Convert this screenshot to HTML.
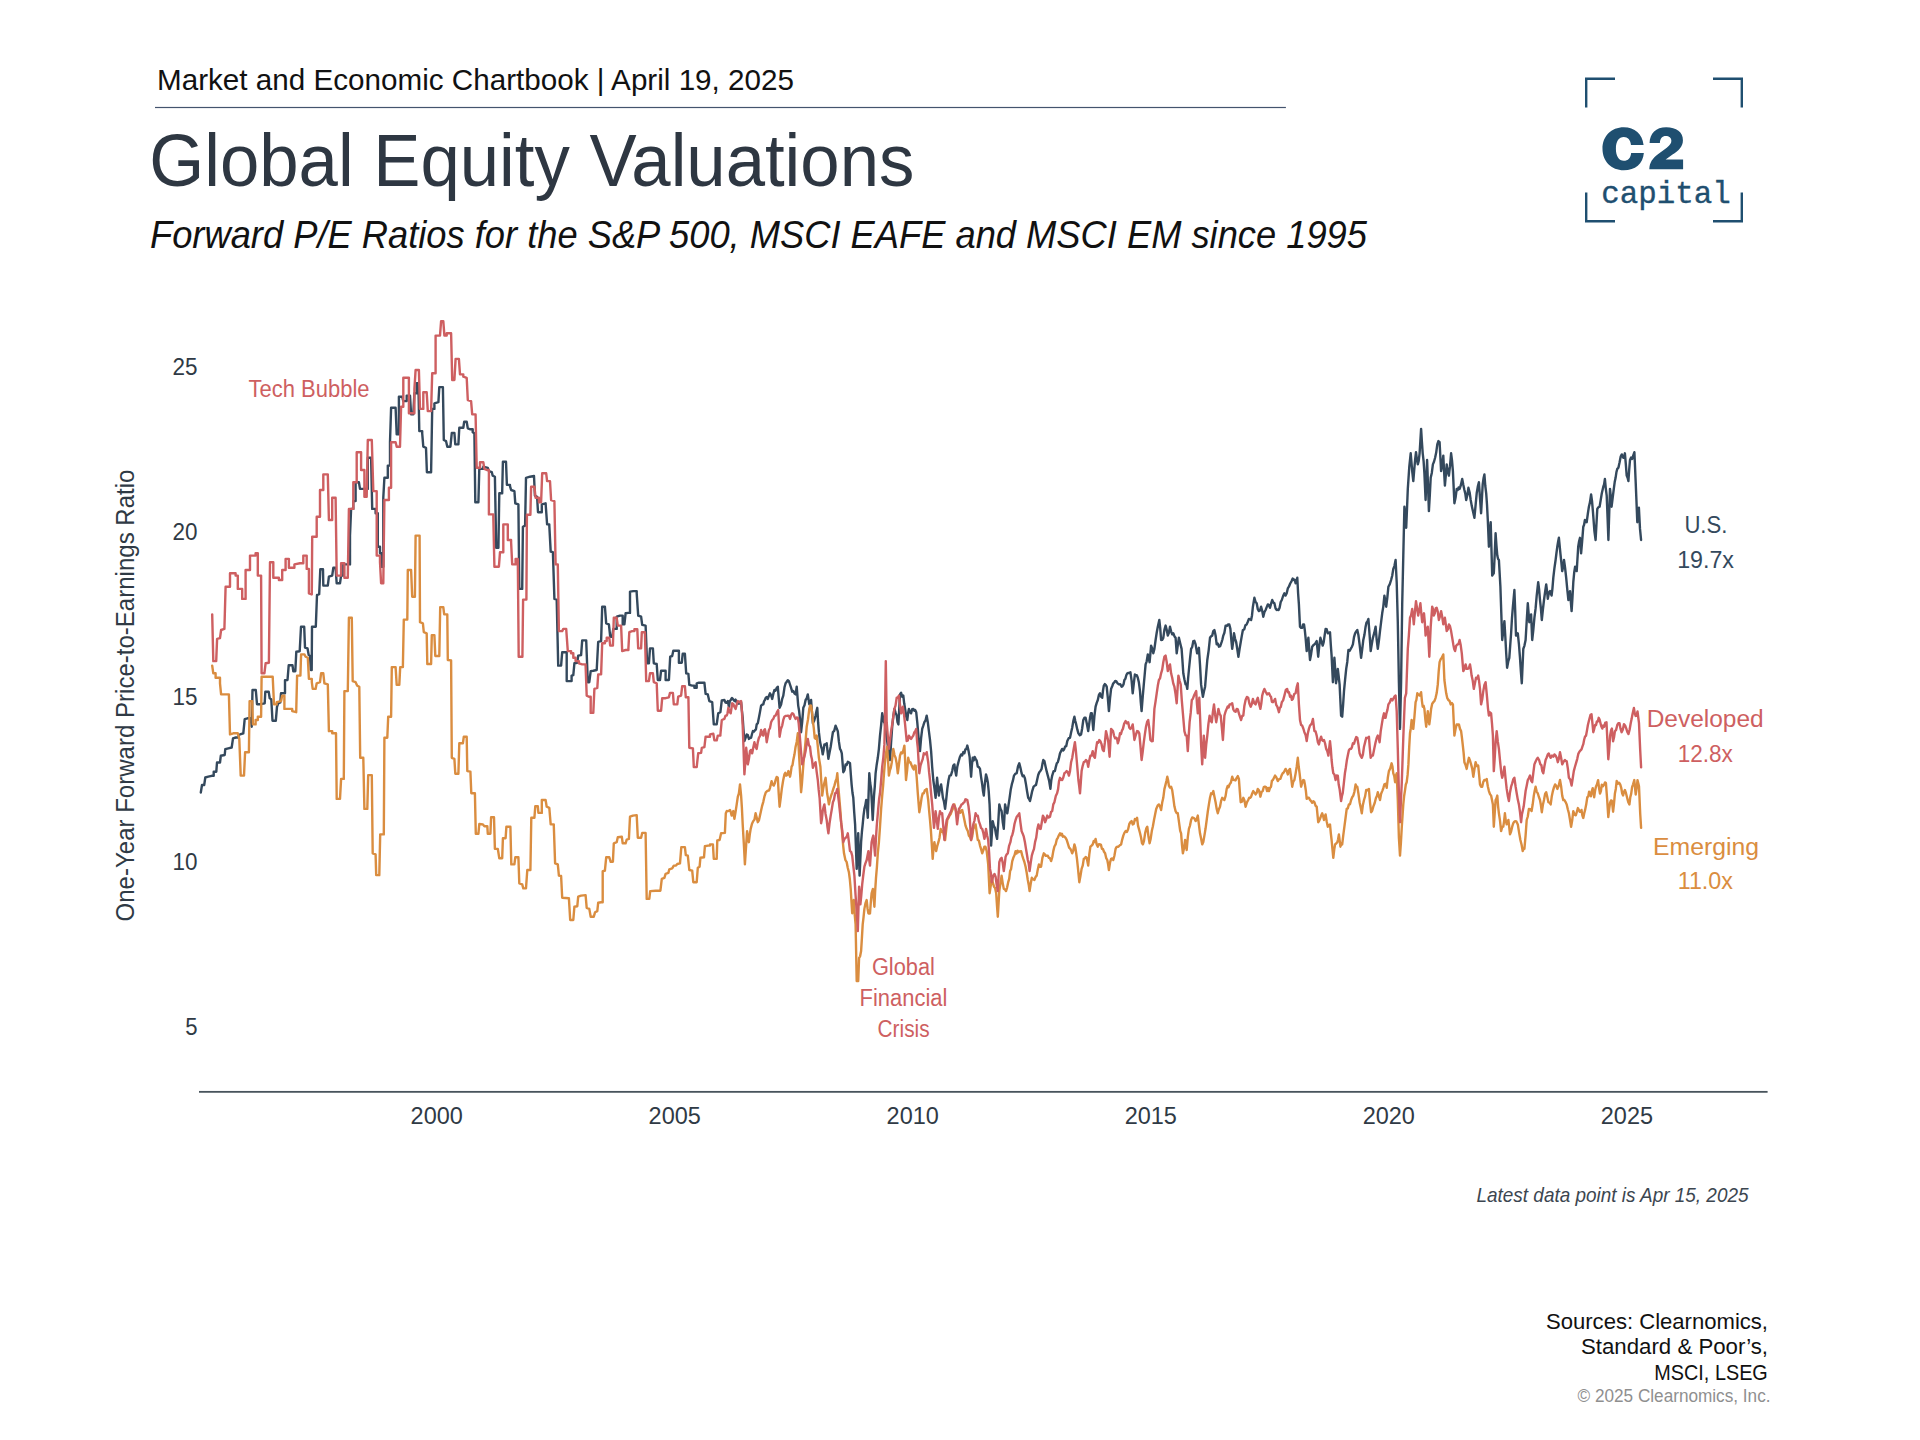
<!DOCTYPE html>
<html><head><meta charset="utf-8"><title>Global Equity Valuations</title>
<style>
html,body{margin:0;padding:0;background:#fff;}
body{width:1920px;height:1440px;overflow:hidden;font-family:"Liberation Sans",sans-serif;}
svg{display:block;}
svg text{font-family:"Liberation Sans",sans-serif;}
</style></head><body>
<svg width="1920" height="1440" viewBox="0 0 1920 1440">
<rect width="1920" height="1440" fill="#ffffff"/>
<text x="157" y="89.6" font-size="29.6" fill="#111" text-anchor="start" textLength="637" lengthAdjust="spacingAndGlyphs"  style="">Market and Economic Chartbook | April 19, 2025</text>
<rect x="155" y="106.9" width="1130.9" height="1.2" fill="#44546e"/>
<text x="149.3" y="186.3" font-size="73.3" fill="#2e3742" text-anchor="start" textLength="765" lengthAdjust="spacingAndGlyphs"  style="">Global Equity Valuations</text>
<text x="150" y="247.5" font-size="39.3" fill="#111" text-anchor="start" textLength="1217" lengthAdjust="spacingAndGlyphs"  style="font-style:italic">Forward P/E Ratios for the S&amp;P 500, MSCI EAFE and MSCI EM since 1995</text>
<g fill="none" stroke="#1f4f70" stroke-width="2.4"><path d="M1586.2 107.5V78.7H1615"/><path d="M1713 78.7H1741.8V107.5"/><path d="M1586.2 192.5V221.3H1615"/><path d="M1713 221.3H1741.8V192.5"/></g>
<g transform="translate(1590 115) scale(0.057292)" fill="#1f4f70"><path d="M935 522C915 330 780 215 590 215C370 215 218 370 218 590C218 810 370 965 590 965C790 965 925 850 940 663L718 663C710 750 665 800 590 800C505 800 452 720 452 590C452 460 505 385 590 385C662 385 705 435 715 522Z"/><path d="M1040 488C1045 320 1150 215 1330 215C1510 215 1622 300 1622 440C1622 560 1540 625 1440 690L1320 775L1625 775L1625 945L1035 945C1040 830 1090 760 1180 690L1340 570C1400 525 1420 490 1420 450C1420 400 1380 368 1322 368C1262 368 1222 410 1220 488Z"/></g>
<text x="1601.3" y="203" font-size="30.5" fill="#1f4f70" text-anchor="start" textLength="129.5" lengthAdjust="spacingAndGlyphs" stroke="#1f4f70" stroke-width="0.35" style="font-family:'Liberation Mono',monospace">capital</text>
<text x="197.6" y="375.3" font-size="24.3" fill="#2f3a45" text-anchor="end" textLength="25" lengthAdjust="spacingAndGlyphs"  style="">25</text>
<text x="197.6" y="540.2" font-size="24.3" fill="#2f3a45" text-anchor="end" textLength="25" lengthAdjust="spacingAndGlyphs"  style="">20</text>
<text x="197.6" y="705.1" font-size="24.3" fill="#2f3a45" text-anchor="end" textLength="25" lengthAdjust="spacingAndGlyphs"  style="">15</text>
<text x="197.6" y="870.0" font-size="24.3" fill="#2f3a45" text-anchor="end" textLength="25" lengthAdjust="spacingAndGlyphs"  style="">10</text>
<text x="197.6" y="1034.9" font-size="24.3" fill="#2f3a45" text-anchor="end" textLength="12.3" lengthAdjust="spacingAndGlyphs"  style="">5</text>
<text x="436.7" y="1124.4" font-size="24.3" fill="#2f3a45" text-anchor="middle" textLength="52.2" lengthAdjust="spacingAndGlyphs"  style="">2000</text>
<text x="674.7" y="1124.4" font-size="24.3" fill="#2f3a45" text-anchor="middle" textLength="52.2" lengthAdjust="spacingAndGlyphs"  style="">2005</text>
<text x="912.7" y="1124.4" font-size="24.3" fill="#2f3a45" text-anchor="middle" textLength="52.2" lengthAdjust="spacingAndGlyphs"  style="">2010</text>
<text x="1150.8" y="1124.4" font-size="24.3" fill="#2f3a45" text-anchor="middle" textLength="52.2" lengthAdjust="spacingAndGlyphs"  style="">2015</text>
<text x="1388.8" y="1124.4" font-size="24.3" fill="#2f3a45" text-anchor="middle" textLength="52.2" lengthAdjust="spacingAndGlyphs"  style="">2020</text>
<text x="1626.9" y="1124.4" font-size="24.3" fill="#2f3a45" text-anchor="middle" textLength="52.2" lengthAdjust="spacingAndGlyphs"  style="">2025</text>
<rect x="199" y="1090.95" width="1568.6" height="1.8" fill="#48545c"/>
<text transform="translate(133.7 921.5) rotate(-90)" font-size="25.7" fill="#2f3a45" textLength="452" lengthAdjust="spacingAndGlyphs">One-Year Forward Price-to-Earnings Ratio</text>
<path d="M200.8 792.5L202 785L204.2 785L205.3 777.5L208.3 776.7L211.7 775.8L213.7 775.8L213.7 771.7L216.3 771.7L217 762.5L220 762.5L220.8 755.8L224.7 755L225.3 749.2L228.3 748.3L231.7 747.5L233 738.3L235.8 737.5L238.7 737.5L238.7 735L240.8 734.2L243.3 733.3L244.7 719.2L247.5 718.3L250.8 718.3L251.7 726.7L252.5 690L255.8 690L257 704.2L260.8 704.2L264.7 703.3L265.3 691.7L268.7 691.7L269.7 698.3L271.3 699.2L272.5 720.8L275.8 720.8L277 706.7L278.3 703.3L280.3 702.5L281 693.3L283.3 693.3L285 693.3L285 680.3L287.5 680L288.7 665.3L292.5 665.3L293.3 671.3L295.3 671.3L296.3 651.7L299.7 651.3L301 626.7L304.2 626.7L305 647.5L307.5 648.3L308.7 655L310 655.8L310.8 670L311.7 670L312 626.7L315.8 626.7L317 595L319.2 594.2L320.3 569.2L323 569.2L323.3 585.6L327.8 585.6L328.9 576.7L332.2 575.6L333.3 567.8L335.6 567.8L336.7 583.3L340 583.3L341.1 575.6L343.3 575.6L343.3 564.4L345.6 564.4L350 564.4L350 535.6L351.1 508.9L353.3 508.9L353.3 501.1L355.6 501.1L355.6 482.2L358.9 482.2L360 488.9L365.6 488.9L367.8 488.9L367.8 457.8L371.1 457.8L372.2 508.9L375.6 508.9L375.6 513.3L377.8 513.3L377.8 546.7L380 546.7L380 553.3L381.6 553.3L381.6 566.7L383.3 566.7L383.3 497.8L384.4 477.8L387.8 477.8L387.8 465.6L390 465.6L390 442.2L391.1 407.8L395.6 407.8L396.7 434.4L398.9 434.4L398.9 396.7L402.2 396.7L403.3 401.1L406.7 401.1L406.7 395.6L410 395.6L411.1 414.4L413.3 414.4L414.4 393.3L416.7 393.3L416.7 383.3L418.4 383.3L419.3 431.1L422.2 431.1L422.2 433.3L423.3 446.7L426 447.8L426.9 472.2L431.1 472.2L432.2 408.9L434.4 408.9L434.4 403.3L438.4 402.2L439.3 387.1L442.9 387.1L443.8 440L446 441.1L447.3 446.7L450.4 446.7L451.8 432.9L454.4 432.9L455.3 444.4L458.4 444.4L459.3 427.8L463.3 427.8L464.2 421.8L466.7 421.8L467.8 428.4L470.4 429.3L472.7 429.3L472.7 432.2L474.4 433.3L475.3 502.2L478.4 502.2L479.3 468.9L483.3 468.9L483.3 466.7L487.8 467.8L488.9 471.1L491.8 472.2L492.7 475.6L494.9 476.7L496.2 547.8L498.4 547.8L499.3 493.3L502.2 493.3L502.2 491.1L502.9 461.8L506 461.8L506.9 484.9L510 484.9L510 486.2L511.1 490L514.4 491.1L515.3 503.3L518.4 504.4L519.3 588.9L522.2 588.9L522.9 526.7L525.1 525.6L526 477.8L530 476.7L534 476L534.9 495.6L537.1 496.7L538 512.2L541.8 512.2L541.8 504.4L545.6 503.3L547.1 524.4L549.3 524.4L549.3 525.6L550.7 551.6L552.9 552.2L554.4 598.9L556.7 599.6L558.2 665.6L561.1 665.6L562.2 652.2L564.9 652.2L566.7 652.2L566.7 681.1L570 681.1L571.6 681.1L571.6 675.6L573.3 675.1L574.4 663.3L577.3 662.7L578.2 655.6L581.1 655.1L582.2 640.4L586.2 640.4L587.8 682.2L589.3 682.2L590.7 671.1L593.3 670.7L596.7 670L598.2 641.8L601.1 641.1L602.2 606.7L604.9 606.7L606.2 623.3L608.9 624.4L610.2 636.7L612.2 636.7L613.3 628.9L616.7 628.9L616.7 616.7L620 615.6L622.7 615.6L622.7 624.4L624.4 624.4L625.6 613.3L628.4 612.9L630 612.9L630 591.6L633.3 591.1L636.7 591.1L636.7 593.3L638.2 615.6L641.1 616.7L642.2 624.9L645.6 625.6L647.1 663.3L648.9 663.3L650 648.4L652.9 648.4L653.8 663.3L656.7 664L657.8 680L660 680L661.1 670.7L664 670.7L665.6 670.7L665.6 680L668.9 680L670.2 656.7L672.2 656L673.3 650.7L677.3 650.7L678.9 650.7L678.9 662.7L681.8 662.7L682.7 653.8L684.9 653.8L686.2 673.3L688.4 673.8L689.3 684.9L692.2 685.6L694.4 685.6L694.4 687.8L696.7 687.8L696.7 683.3L698.9 682.7L704.4 682.7L705.6 693.8L707.8 694.4L709.3 701.1L712.2 702.2L713.8 724.4L716.7 724.4L718.2 713.3L720.4 712.2L721.8 700.4L724.4 700L725.5 702.5L726.7 702.8L727.8 701.1L728.9 706.7L729.8 701.3L730.7 700L732 697.9L733.3 699.6L734.5 701.1L735.6 699.6L736.7 702.5L737.8 703.3L738.9 703.7L740 701.7L741.1 702.2L741.9 710.5L742.7 717.8L743.5 729.9L744.4 741.1L745.5 738.1L746.7 734.4L747.8 735.1L748.9 738.9L750 738L751.1 737.8L752 734L752.9 731.1L754 731.6L755.1 730L755.9 729.5L756.7 724.4L757.8 723.2L758.9 717.8L760 711.9L761.1 705.6L762.2 704.7L763.3 704.4L764.1 701.1L764.9 700L765.9 697.5L766.8 697.1L767.8 698.9L768.9 695.9L770 693.3L771.1 695.3L772.2 698.9L773.3 693.9L774.4 690L775.5 690.7L776.7 687.9L777.8 686.7L778.7 697.5L779.6 707.8L781.1 704.4L782.2 698.8L783.3 695.6L784.5 687.3L785.6 683.3L786.7 681.8L787.8 680.2L788.9 681.1L790 684.5L791.1 687.8L792.2 691.7L793.3 691.1L794.5 693.6L795.6 694.4L796.7 686.7L798.2 705.6L799.1 710.8L800 718.9L801.1 732.2L802.2 721.8L803.3 707.8L804.5 705.3L805.6 700L806.7 698.3L807.8 694.4L809.3 704.4L810.2 704.1L811.1 700L812 712.9L812.9 723.3L814.2 720.8L815.6 715.6L816.5 711L817.3 707.8L818.1 722.2L818.9 732.2L820 741.6L821.1 746.7L821.9 749L822.7 754.4L823.5 750.6L824.4 744.4L825.5 744.8L826.7 743.3L827.5 750.9L828.4 758.9L829.5 752.9L830.7 746.7L831.8 739.4L832.9 732.2L834.2 730.9L835.6 725.6L836.7 728.4L837.8 731.1L838.9 741.5L840 748.9L840.9 750.4L841.8 753.3L843.3 772.2L844.5 770.1L845.6 764.4L846.7 764.9L847.8 761.8L848.9 762.4L850 763.3L850.8 774.2L851.6 784.4L852.5 793L853.3 797.8L854.2 812.1L855.1 824.4L855.9 846.6L856.7 868.9L858.2 833.3L859.6 875.6L861.1 842.2L861.9 832L862.7 824.4L863.5 815.8L864.4 808.9L865.3 805.4L866.2 800L867 807.4L867.8 817.8L869.3 773.3L870.2 783L871.1 788.9L871.9 803.4L872.7 820L874 795.6L874.8 786.3L875.6 773.3L876.7 764.7L877.8 757.8L878.9 748.8L880 735.6L881.1 725.4L882.2 713.3L883.1 717.8L884 722.2L884.4 720L885.5 729L886.7 737.8L887.8 745.9L888.9 753L890 760L891.1 742.5L892.2 726.7L893.3 716.5L894.4 708.9L895.5 712.3L896.7 715.6L897.5 722L898.4 724.4L899.2 710L900 694.4L901.1 692.8L902.2 696.7L903.3 695.6L904.2 703.3L905.1 708.9L906.2 716.3L907.3 720L908.1 713L908.9 708.9L910 712.2L911.1 713.3L912.2 709.1L913.3 708.9L914.3 710.7L915.2 710.1L916.2 712.2L917.3 722.6L918.4 735.6L919.2 745.1L920 751.1L921.1 738.2L922.2 728.9L923.3 725.7L924.4 722.2L925.5 720.5L926.7 715.6L927.8 722.2L928.9 731.1L930 739.8L931.1 751.1L932.2 767.3L933.3 780L934.5 788.5L935.6 797.8L937.1 777.8L938 787.7L938.9 795.6L940 787.8L941.1 784.4L942 790.5L942.9 797.8L944 801.8L945.1 808.9L946.2 799.7L947.3 788.9L948.5 780.3L949.6 775.6L950.9 775.4L952.2 771.1L953.3 765.6L954.4 764.4L955.3 771.1L956.2 775.6L957.3 766.7L958.4 762.2L959.8 757.2L961.1 754.4L962.2 755.5L963.3 752.1L964.4 753.3L965.4 749.3L966.3 749L967.3 745.6L968.5 750.6L969.6 756.7L971.1 776.7L971.9 765.1L972.7 757.8L973.7 760.4L974.6 756.9L975.6 758.9L976.7 760.7L977.8 766.7L978.9 767.1L980 768.9L981.1 777.2L982.2 784.4L983 791.1L983.8 795.6L984.9 783.2L986 774.4L986.9 777.6L987.8 782.2L988.7 791.1L989.6 804.4L991.1 845.6L991.9 833.1L992.7 821.1L993.8 825.7L994.9 827.8L996 834.5L997.1 838.9L998.2 823.5L999.3 804.4L1000.5 808.9L1001.6 811.1L1002.7 821.7L1003.8 828.9L1005.1 804.4L1006.2 809.8L1007.3 813.3L1008.5 805.4L1009.6 797.8L1010.7 789.8L1011.8 784.4L1012.9 780.7L1014 775.6L1015.4 773.6L1016.7 773.3L1018 766.5L1019.3 763.3L1020.5 768.1L1021.6 773.3L1022.7 776.2L1023.8 775.6L1024.9 778.3L1026 784.4L1027.1 791.5L1028.2 797.8L1029.1 799L1030 801.1L1031.1 796.2L1032.2 791.1L1033.6 786.7L1034.9 785.6L1036 784.9L1037.1 780L1038.2 775L1039.3 772.2L1040.4 771L1041.6 768.9L1042.4 764.1L1043.3 760L1044.4 761.1L1045.6 766.7L1046.7 771.4L1047.8 775.6L1049.1 780.6L1050.4 788.9L1051.3 780.2L1052.2 775.6L1053.6 771.2L1054.9 771.1L1055.9 766.6L1056.8 763.3L1057.8 762.2L1058.9 758.4L1060 753.3L1061.1 751.1L1062.2 748.9L1063.2 750.4L1064.1 749.4L1065.1 746.7L1066.2 746.2L1067.3 741.1L1068.7 738.2L1070 737.8L1071.1 732.5L1072.2 727.8L1073.3 721.1L1074.4 716.7L1075.3 721L1076.2 724.4L1077.3 729.4L1078.4 733.3L1079.8 735.2L1081.1 734.4L1082.2 728.2L1083.3 720L1084.4 717.8L1085.6 717.8L1086.9 724.1L1088.2 731.1L1089.1 724.6L1090 717.8L1090.9 713.3L1091.8 713.3L1093.3 730L1094.4 716.2L1095.6 706.7L1096.7 702.9L1097.8 700L1098.9 694.9L1100 693.3L1101.1 696.6L1102.2 697.8L1103 690.5L1103.8 685.6L1104.8 684.1L1105.7 684.9L1106.7 686.7L1107.8 697.7L1108.9 711.1L1110 698.7L1111.1 688.9L1112.2 686.2L1113.3 683.3L1114.3 682.4L1115.2 681L1116.2 681.1L1117.6 683.4L1118.9 684.4L1120.2 684.2L1121.6 686.7L1122.5 686.3L1123.5 684.4L1124.4 680L1125.4 678.8L1126.3 675.2L1127.3 673.3L1128.3 673L1129.4 672.9L1130.4 672.2L1131.6 680.7L1132.7 693.3L1133.8 683.5L1134.9 674.4L1135.9 675.6L1136.8 675.2L1137.8 677.8L1138.9 682.6L1140 691.1L1140.8 702.5L1141.6 711.1L1142.7 697.1L1143.8 684.4L1144.7 674.5L1145.6 664.4L1146.7 661.3L1147.8 654.4L1148.7 658.8L1149.6 662.2L1151.1 645.6L1152.2 648.5L1153.3 653.3L1154.4 648.9L1155.6 640L1156.7 632.8L1157.8 626.7L1159.3 620L1160.2 627.8L1161.1 640L1162.2 639.8L1163.3 637.8L1164.4 629.9L1165.6 625.6L1166.7 629.7L1167.8 635.6L1168.9 632.7L1170 626.7L1171.1 631.3L1172.2 634.4L1173.3 633.3L1174.5 636.4L1175.6 637.8L1176.7 653.3L1177.8 645.1L1178.9 637.8L1180.2 643.3L1181.6 648.9L1182.4 659.8L1183.3 673.3L1184.4 679.3L1185.6 684.4L1186.4 684.7L1187.3 688.9L1188.1 678.5L1188.9 670L1190 658.9L1191.1 648.9L1192.2 647L1193.3 641.1L1194.4 640.8L1195.6 644.4L1197.1 653.3L1198 651.7L1198.9 647.8L1200 664.7L1201.1 684.4L1202 690.9L1202.9 696.7L1204 691.2L1205.1 686.7L1206.2 673.2L1207.3 660L1208.7 650.1L1210 637.8L1211.1 636.2L1212.2 635.6L1213.3 631.1L1214.4 630L1215.6 635.5L1216.7 644.4L1217.8 643.6L1218.9 646.7L1220.2 646.1L1221.6 642.2L1222.4 639.5L1223.3 635.6L1224.4 632.7L1225.6 625.6L1226.9 625.9L1228.2 624.4L1229.3 624.5L1230.4 628.9L1231.3 639.6L1232.2 648.9L1233.1 642.4L1234 633.3L1235.1 638.8L1236.2 642.2L1237.3 649.4L1238.4 656.7L1239.6 648.8L1240.7 642.2L1241.8 635.9L1242.9 630L1244.2 629.5L1245.4 625.2L1246.7 624.4L1247.8 621.8L1248.9 618.9L1250 619.3L1251.1 620L1252 615.4L1252.9 606.7L1254.4 597.8L1255.6 602L1256.7 603.3L1257.8 609.2L1258.9 611.1L1260 610.4L1261.1 606.7L1262.2 610.8L1263.3 616.7L1264.4 612.1L1265.6 610L1266.7 607.1L1267.8 604.4L1268.9 605L1270 607.8L1271.1 603.6L1272.2 600L1273.3 602.5L1274.4 603.3L1275.6 608.6L1276.7 610L1277.7 609.7L1278.6 610L1279.6 607.8L1280.7 602L1281.8 600L1283.1 596L1284.4 593.3L1285.6 595.6L1286.7 593.3L1287.8 588.4L1288.9 586.7L1290.2 583.5L1291.6 581.1L1292.7 578.6L1293.8 580L1294.7 579.7L1295.6 583.3L1296.4 582.4L1297.3 577.8L1298.1 593.3L1298.9 604.4L1300 626.7L1301.1 627.9L1302.2 627.8L1303.1 624.4L1304 624.4L1304.8 630.2L1305.6 637.8L1306.7 651.1L1307.6 643.2L1308.4 637.8L1309.2 649.7L1310 660L1311.1 654.2L1312.2 646.7L1313.3 645.3L1314.4 644.4L1315.6 642.9L1316.7 641.1L1318.2 656.7L1319.3 645.5L1320.4 637.8L1321.6 641.9L1322.7 645.6L1323.7 642.1L1324.6 635.6L1325.6 628.9L1326.7 629.2L1327.8 633.3L1328.9 632.8L1330 632.2L1330.8 644.9L1331.6 655.6L1332.9 682.2L1334.4 657.8L1335.2 669.4L1336 683.3L1336.9 677.9L1337.8 668.9L1338.7 676.5L1339.6 684.4L1341.1 715.6L1342.2 716.7L1343.1 704.8L1344 691.1L1345.1 679.6L1346.2 668.9L1347.3 661.7L1348.4 650L1349.6 650.8L1350.7 648.9L1351.8 647L1352.9 644.4L1354 637.2L1355.1 633.3L1356.2 631.4L1357.3 630L1358.4 635L1359.6 644.4L1361.1 657.8L1362.2 649.3L1363.3 640L1364.4 635.1L1365.6 626.7L1366.5 622.6L1367.5 621.5L1368.4 618.9L1369.6 634.9L1370.7 651.1L1371.8 644L1372.9 637.8L1374.2 633.2L1375.6 626.7L1376.7 639.8L1377.8 648.9L1378.9 640.9L1380 631.1L1381.1 622.1L1382.2 613.3L1383.3 606.6L1384.4 595.6L1385.3 600.4L1386.2 606.7L1387.3 597.8L1388.4 586.7L1389.8 584.1L1391.1 580L1392.2 575.7L1393.3 568.9L1394.4 566.1L1395.6 560L1396.7 582.2L1397.8 622.2L1398.9 682.2L1400 728.9L1401.1 682.2L1402.2 604.4L1403.3 555.6L1404.4 506.7L1405.3 516L1406.2 527.8L1407 508.9L1407.8 488.9L1409.3 466.7L1410.7 453.3L1412.2 471.1L1413.3 481.1L1414.2 470.1L1415.1 460L1416 452.2L1416.9 459.1L1417.8 464.4L1418.7 461L1419.6 453.3L1421.1 428.9L1421.9 441.7L1422.7 453.3L1423.6 461.1L1424.4 473.3L1425.6 500L1427.1 460L1428 485.4L1428.9 511.1L1429.8 495.4L1430.7 477.8L1431.8 472.9L1432.9 464.4L1434 461.8L1435.1 457.8L1436.2 452.6L1437.3 444.4L1438.4 441.1L1439.6 442.2L1441.1 471.1L1442.2 465.4L1443.3 455.6L1444.1 471.7L1444.9 485.6L1445.8 475.5L1446.7 464.4L1447.8 471.9L1448.9 475.6L1450 466.2L1451.1 453.3L1452 460.4L1452.9 471.1L1454.4 503.3L1455.6 497.6L1456.7 488.9L1457.7 490.1L1458.6 487.5L1459.6 488.9L1460.9 485L1462.2 478.9L1463.3 484.8L1464.4 490L1465.3 493.6L1466.2 500L1467.3 495.3L1468.4 487.8L1469.6 492.2L1470.7 500L1471.8 506.1L1472.9 511.1L1474.4 517.8L1475.6 505.2L1476.7 493.3L1477.8 486.6L1478.9 482.2L1480 498.1L1481.1 513.3L1481.9 498.7L1482.7 484.4L1483.6 478L1484.4 474.4L1485.3 486L1486.2 493.3L1487 504.7L1487.8 520L1488.9 546.7L1489.8 532.2L1490.7 522.2L1492.2 575.6L1493 574.4L1493.8 573.3L1494.7 554.9L1495.6 533.3L1496.4 545.2L1497.3 555.6L1498.1 559L1498.9 560L1500.4 586.7L1501.3 613.3L1502.2 640L1503.3 631.4L1504.4 621.1L1505.3 636.4L1506.2 653.3L1507.1 667.8L1508.2 661.7L1509.3 657.8L1510.2 645.6L1511.1 633.3L1512 617.8L1512.9 606.7L1514.4 590L1515.2 610.9L1516 635.6L1516.9 635.6L1517.8 633.3L1518.9 644L1520 657.8L1520.9 671.7L1521.8 683.3L1523.3 648.9L1524.4 645.8L1525.6 640L1526.7 621.2L1527.8 603.3L1529.3 622.2L1530.2 619.1L1531.1 614.4L1532.2 640L1533.3 630.2L1534.4 617.8L1535.6 608.4L1536.7 595.6L1538.2 582.2L1539.1 589.4L1540 600L1540.9 608.4L1541.8 620L1542.9 609.5L1544 600L1545.1 592L1546.2 584.4L1547 590.7L1547.8 598.9L1548.9 592.7L1550 591.1L1550.8 593.6L1551.6 595.6L1552.4 588.8L1553.3 577.8L1554.4 568.3L1555.6 560L1556.4 553.5L1557.3 546.7L1558.1 541.7L1558.9 537.8L1560.4 553.3L1561.3 561.9L1562.2 571.1L1563.1 567.3L1564 560L1565.1 568L1566.2 577.8L1567.3 589.6L1568.4 600L1569.2 595.5L1570 591.1L1570.8 601.3L1571.6 611.1L1572.4 598.6L1573.3 582.2L1574.2 572.5L1575.1 566.7L1575.9 570.4L1576.7 571.1L1578.2 546.7L1579.1 541.3L1580 537.8L1581.1 553.3L1582.2 540.7L1583.3 526.7L1584.1 524.7L1584.9 520L1585.8 521.8L1586.7 522.2L1587.8 514L1588.9 506.7L1590 502.1L1591.1 494.4L1592 500.9L1592.9 511.1L1594.4 531.1L1595.6 540L1596.4 525.1L1597.3 508.9L1598.4 507.3L1599.6 506.7L1600.7 500.1L1601.8 493.3L1603.3 486.7L1604.1 484.4L1604.9 478.9L1605.8 488.6L1606.7 495.6L1607.6 518.4L1608.4 540L1609.2 513.6L1610 488.9L1610.8 496.6L1611.6 506.7L1612.7 497.6L1613.8 488.9L1614.7 482.1L1615.6 477.8L1616.4 472.3L1617.3 468.9L1618.4 467.7L1619.6 462.2L1620.7 456.5L1621.8 454.4L1623.3 457.8L1624.1 457L1624.9 453.3L1625.8 463.9L1626.7 475.6L1627.6 477.7L1628.4 481.1L1629.2 469.7L1630 460L1631.1 457.5L1632.2 458.9L1633.3 455.4L1634.4 452.2L1635.6 480L1636.4 499.6L1637.3 522.2L1638.1 514.7L1638.9 507.8L1640 528.9L1641.1 540" fill="none" stroke="#34495d" stroke-width="2.4" stroke-linejoin="round" stroke-linecap="round"/>
<path d="M212.2 665.6L213.3 673.3L215.6 673.3L215.6 677.8L220 677.8L220 683.3L221.1 694.4L228.9 694.4L230 734.4L233.3 733.3L237.8 733.3L239.3 738.9L240.7 775.6L244 775.6L245.1 752.2L248.9 752.2L249.6 701.1L252.2 701.1L252.9 724.4L255.6 724.4L255.6 720L257.8 720L257.8 716.7L261.1 716.7L261.6 676.7L272.7 676.7L274 704.4L276.7 704.4L276.7 702.2L281.1 701.1L282.2 695.6L284.4 695.6L284.4 708.9L288.9 708.9L292.2 708.9L292.2 711.1L296.2 712.2L297.1 675.6L300.4 675.6L301.1 654.4L304.4 654.4L305.6 656.7L307.8 657.8L308.9 678.9L311.8 678.9L311.8 682.2L312.7 688.9L315.6 688.9L316.7 683.3L320 682.2L321.1 673.3L323.3 673.3L324.4 683.3L327.8 684.4L328.9 731.1L332.2 731.1L332.2 733.3L336 733.3L336.7 798.9L340 798.9L341.1 778.9L343.8 778.9L344.4 691.1L347.8 691.1L348.9 617.8L351.8 617.8L352.7 681.1L355.6 682.2L357.1 685.6L359.3 686.7L360.2 757.8L363.3 757.8L364.4 808.9L367.3 808.9L368.2 775.1L371.8 775.1L372.7 853.3L375.6 854.4L376.2 875.1L379.3 875.1L380.2 834.4L383.8 834.4L384.4 737.8L387.3 737.8L388.2 716.7L391.1 716.7L391.8 667.1L395.6 667.1L396.7 684.9L399.3 684.9L400.2 667.1L402.9 667.1L402.9 665.6L403.8 619.6L407.3 619.6L407.8 570L411.1 570L412.2 596.7L414.9 596.7L415.6 535.6L419.6 535.6L420 622.2L422.9 623.3L423.8 632.2L426.7 633.3L427.3 664L431.1 664L431.8 635.1L434.4 635.1L435.3 656L439.3 656L440.2 607.1L443.3 607.1L444.2 614.4L447.3 614.4L447.3 615.6L447.8 660L451.1 660.4L451.8 757.8L454.4 758.9L455.3 773.8L458.4 773.8L459.3 743.3L462.9 743.3L463.8 736.7L466.7 736.7L467.3 771.1L470.4 771.6L471.3 793.3L474.9 793.3L475.8 833.8L478.4 833.8L479.3 824L482.9 824.4L484.4 826.2L487.3 826.2L487.8 833.8L490.4 833.8L491.1 817.3L494 817.3L494.9 848.9L497.8 848.9L499.3 858.2L502.2 858.2L502.9 838.2L505.6 838.2L506.4 826.7L510.4 826.7L511.3 864.4L514.4 864.4L515.3 857.3L518.4 857.3L519.3 883.3L522.2 884.4L523.3 888.4L526 888.4L527.3 870L530.4 870L531.3 817.8L534.4 817.8L535.3 806.2L537.8 806.2L538.4 812.9L541.8 812.9L541.8 800L545.6 800L546.7 806.7L549.3 807.8L550.7 824.4L553.8 824.4L553.8 825.6L555.1 863.3L557.8 864.4L558.9 875.6L561.1 876L562.2 897.8L568.9 898.2L570.2 920L573.3 920L574.4 906.7L577.3 906.2L578.2 896.7L581.1 895.6L585.6 895.1L586.7 907.8L589.3 908.9L590.7 916.7L593.8 916.7L595.1 912.2L597.3 911.1L598.2 902.7L601.1 902.2L602.7 902.2L602.7 871.1L604.9 870.7L606.2 857.3L609.3 857.3L610.7 861.8L612.9 861.8L613.8 843.3L616.7 842.2L617.8 837.3L621.8 836.7L622.7 843.3L625.6 843.3L626.7 839.6L628.9 838.9L630 816.7L632.9 815.6L636.7 815.1L637.8 837.8L641.1 837.8L642.2 832.9L645.6 832.9L646.7 898.9L649.3 898.9L650.2 891.1L655.6 890.7L660.4 890.7L661.8 878.9L664.4 877.8L665.6 873.8L668.4 872.9L669.3 869.3L672.2 868.4L673.8 865.6L676 865.6L677.3 864L680 863.3L681.3 847.1L684.9 847.1L685.8 855.1L687.8 855.6L689.3 870L692.2 870.7L693.3 882.2L696.7 882.2L697.8 867.8L699.6 866.7L700.4 857.8L704 857.3L704.9 846.2L707.8 845.6L710 845.6L710 844.4L712.9 844.4L713.8 858.9L716.7 858.9L717.3 840.4L719.6 840L721.1 833.3L724.9 832.9L725.8 813.3L726.8 811L727.8 811.1L728.9 810.8L730 810L730.8 812.2L731.6 815.6L732.5 813.8L733.3 811.1L734.4 818.9L735.5 812.2L736.7 804.4L737.8 796.9L738.9 793.3L740 784.4L741.1 795.6L741.9 807.8L742.7 824.4L744 846.7L744.9 864.4L746.2 844.4L747.1 831.1L748 838.2L748.9 842.2L749.8 834.4L750.7 828.9L752 823.8L753.3 821.1L754.5 819.5L755.6 813.3L756.7 817.6L757.8 822.2L758.9 820.4L760 815.6L761.1 810.5L762.2 805.6L763.3 801.8L764.4 796.7L765.8 792.3L767.1 791.1L768.1 790.6L769 790.6L770 787.8L770.8 784.6L771.6 781.1L772.7 784.5L773.8 785.6L774.7 783.6L775.6 780L776.7 776.9L777.8 777.8L778.7 793.4L779.6 806.7L780.7 798.2L781.8 788.9L783.1 780.7L784.4 774.4L785.3 772.8L786.2 775.6L787.3 775L788.4 771.1L789.2 773.8L790 776.7L790.8 772.7L791.6 766.7L792.5 765.1L793.3 760L794.5 754.3L795.6 746.7L796.7 741.9L797.8 733.3L798.7 748.4L799.6 764.4L801.1 792.2L801.9 784.1L802.7 773.3L803.5 763L804.4 753.3L805.5 742L806.7 726.7L808 719.5L809.3 708.9L810.2 705.4L811.1 705.6L812 711.7L812.9 721.1L813.8 728.1L814.7 737.8L815.7 738.8L816.7 735.6L817.8 746.4L818.9 757.8L820.4 766.7L821.3 781.7L822.2 795.6L823.1 789.1L824 784.4L824.8 781.1L825.6 777.8L827.1 793.3L828 798.3L828.9 804.4L830 799.3L831.1 795.6L832.2 792.6L833.3 788.9L834.5 785.4L835.6 781.1L836.5 779.1L837.3 773.3L838.1 784.1L838.9 793.3L840.4 811.1L841.3 824.2L842.2 833.3L843.1 844.9L844 853.3L845.4 860L846.7 862.2L847.8 868L848.9 872.2L849.8 879L850.7 888.9L852.2 913.3L853 908.3L853.8 900L854.7 914.3L855.6 924.4L856.7 981.1L858.2 981.1L859.1 957.8L860.1 956.3L861.1 951.1L861.9 938.1L862.7 924.4L863.5 917.6L864.4 908.9L865.5 903.1L866.7 900L867.5 908.2L868.4 913.3L869.2 913.6L870 913.3L870.8 902.3L871.6 893.3L872.9 888.9L874.4 906.7L875.2 890.2L876 877.8L876.9 867.2L877.8 853.3L878.9 842.3L880 826.7L881.1 809.3L882.2 795.6L883.1 785.8L884 773.3L884.8 764L885.6 755.6L887.1 746.7L888 759.5L888.9 775.6L889.9 770.2L890.8 767.9L891.8 762.2L893.3 748.9L894.5 755.1L895.6 757.8L896.7 763.5L897.8 773.3L898.9 765L900 755.6L901.1 752.4L902.2 753.3L903.3 750.5L904.4 745.6L905.2 762L906 780L907.1 770.7L908.2 757.8L909.3 762.2L910.4 762.2L911.5 765L912.7 767.8L913.7 769.4L914.6 765.5L915.6 765.6L916.7 777.5L917.8 793.3L919.3 812.2L920.5 805.5L921.6 797.8L922.7 793.4L923.8 793.3L924.8 790.4L925.7 789.9L926.7 788.9L928.2 800L929.1 810.5L930 820L930.9 830.6L931.8 844.4L932.7 858.9L933.5 848.4L934.4 842.2L935.3 848.3L936.2 851.1L937.3 845.8L938.4 842.2L939.5 837.7L940.7 828.9L941.8 831.8L942.9 831.1L944 835L945.1 840L946.2 829.8L947.3 820L948.5 817.9L949.6 815.6L950.7 814L951.8 811.1L953.1 808.2L954.4 804.4L955.5 809.1L956.7 813.3L958 812.8L959.3 811.1L960.3 812.8L961.2 810.4L962.2 810L963.3 814.7L964.4 820L965.5 825.5L966.7 828.9L967.8 831L968.9 835.6L970 836.9L971.1 840L972.2 836.6L973.3 828.9L974.5 826.7L975.6 824.4L976.7 832.4L977.8 840L978.9 840.6L980 845.6L981.1 849.1L982.2 853.3L983.3 850.4L984.4 846.7L985.5 846.7L986.7 851.1L988.2 864.4L989.6 893.3L990.7 886.1L991.8 877.8L992.9 882.9L994 886.7L995.1 888L996.2 893.3L997 905.6L997.8 916.7L999.3 891.1L1000.5 883.2L1001.6 875.6L1002.7 883.1L1003.8 888.9L1004.9 889.3L1006 891.1L1007.1 887.6L1008.2 882.2L1009.2 878.9L1010.1 871.1L1011.1 868.9L1012.2 861.3L1013.3 857.8L1014.5 855.3L1015.6 851.1L1016.5 853.6L1017.5 850.7L1018.4 852.2L1019.8 851.4L1021.1 851.1L1022.2 855.4L1023.3 858.9L1024.4 862L1025.6 866.7L1026.7 872.7L1027.8 880L1028.7 884.7L1029.6 891.1L1030.7 883.8L1031.8 877.8L1033.1 879.3L1034.4 880L1035.6 876.9L1036.7 875.6L1037.8 869.4L1038.9 864.4L1040 866.8L1041.1 866.7L1042.4 857.8L1043.8 853.3L1044.8 854.4L1045.7 855.9L1046.7 855.6L1047.8 855.8L1048.9 857.8L1050 858.2L1051.1 861.1L1052.2 857.5L1053.3 851.1L1054.4 846.5L1055.6 844.4L1056.7 839.7L1057.8 837.8L1058.9 835.3L1060 833.3L1061 835.3L1061.9 833.7L1062.9 836.7L1064.2 836.4L1065.6 837.8L1066.7 839.8L1067.8 843.3L1069.1 847.6L1070.4 848.9L1071.3 850.8L1072.2 853.3L1073.3 850.5L1074.4 844.4L1075.3 847.3L1076.2 853.3L1077 859.2L1077.8 866.7L1079.3 882.2L1080.4 876.2L1081.6 868.9L1082.7 865.7L1083.8 858.9L1084.8 858.3L1085.7 856.9L1086.7 857.8L1088.2 865.6L1089.3 854.4L1090.4 846.7L1091.6 845.7L1092.7 844.4L1093.7 841.1L1094.6 842.1L1095.6 838.9L1096.7 844.4L1097.8 846.7L1098.9 844.1L1100 844.4L1101 844.9L1101.9 848.8L1102.9 848.9L1104 851.8L1105.1 853.3L1106.2 858.1L1107.3 860L1108.1 864.3L1108.9 870L1110 862.7L1111.1 858.9L1112.2 858.5L1113.3 860L1114.4 855.8L1115.6 848.9L1116.5 847.1L1117.5 846.7L1118.4 846.7L1119.8 845.2L1121.1 844.4L1122.2 839.6L1123.3 835.6L1124.4 832.9L1125.6 831.1L1126.9 831.9L1128.2 828.9L1129.3 824L1130.4 822.2L1131.6 821L1132.7 824.4L1133.8 823.7L1134.9 818.9L1136 820.1L1137.1 817.8L1138 825.6L1138.9 828.9L1140 833L1141.1 837.8L1142 843.2L1142.9 844.4L1144 840.8L1145.1 833.3L1146.2 828.7L1147.3 826.7L1148.4 836.1L1149.6 843.3L1150.7 838.7L1151.8 831.1L1152.9 826.3L1154 820L1155.1 814.5L1156.2 808.9L1157.6 805.7L1158.9 804.4L1160 806.5L1161.1 810L1162.2 802.6L1163.3 797.8L1164.4 789.1L1165.6 784.4L1166.4 781L1167.3 776.7L1168.1 780.2L1168.9 785.6L1170 787.6L1171.1 786.7L1172.2 790.2L1173.3 797.8L1174.4 806.3L1175.6 811.1L1176.7 813.1L1177.8 813.3L1179.3 824.4L1180.2 830.8L1181.1 833.3L1182 845.1L1182.9 853.3L1184 848.5L1185.1 840L1185.9 845.4L1186.7 850L1187.8 837.2L1188.9 828.9L1190 825.6L1191.1 820L1192.2 817.4L1193.3 817.8L1194.4 818.5L1195.6 821.1L1196.7 819.1L1197.8 815.6L1198.9 824.6L1200 833.3L1201.1 838.5L1202.2 844.4L1203.3 842L1204.4 835.6L1205.6 828.3L1206.7 820L1207.8 811.5L1208.9 804.4L1210 797.7L1211.1 793.3L1212.2 793.9L1213.3 791.1L1214.4 796.5L1215.6 802.2L1216.7 809L1217.8 813.3L1218.9 809.3L1220 806.7L1221.1 800.9L1222.2 797.8L1223.3 799.1L1224.4 800L1225.6 795.9L1226.7 788.9L1227.7 785.9L1228.6 787.2L1229.6 784.4L1230.9 782.5L1232.2 776.7L1233.3 779.8L1234.4 780L1235.6 780.4L1236.7 777.8L1237.8 776.1L1238.9 778.9L1239.8 791.1L1240.7 802.2L1242 801.7L1243.3 797.8L1244.4 800.2L1245.6 806.7L1246.9 802.3L1248.2 800L1249.2 797.8L1250.1 797.9L1251.1 796.7L1252.2 793.5L1253.3 791.1L1254.4 792.6L1255.6 794.4L1256.7 792.9L1257.8 788.9L1259.1 790.5L1260.4 796.7L1261.6 791.9L1262.7 791.1L1263.8 787.2L1264.9 786.7L1266 787.2L1267.1 791.1L1268.1 788L1269 791.1L1270 787.8L1271 786.8L1271.9 780.7L1272.9 780L1274 777.8L1275.1 775.6L1276.4 777.5L1277.8 781.1L1279.1 779.1L1280.4 778.9L1281.6 775.4L1282.7 773.3L1283.7 772.5L1284.6 770.8L1285.6 768.9L1286.7 771L1287.8 774.4L1288.9 770.2L1290 768.9L1291.1 777L1292.2 786.7L1293.3 781.6L1294.4 780L1295.6 773.6L1296.7 766.7L1297.8 757.8L1298.7 766.5L1299.6 773.3L1301.1 786.7L1302.2 782.8L1303.3 780L1304.1 780.3L1304.9 784.4L1305.8 790.2L1306.7 798.9L1307.8 797.8L1308.9 797.8L1310 799.9L1311.1 801.1L1312.2 802.8L1313.3 801.3L1314.4 802.2L1315.6 805.8L1316.7 806.7L1318.2 822.2L1319.3 820.6L1320.4 817.8L1321.3 815.2L1322.2 813.3L1323.1 816.1L1324 820L1324.8 817.2L1325.6 814.4L1326.7 821.5L1327.8 826.7L1328.9 825.2L1330 824.4L1330.8 833.1L1331.6 840L1332.4 848.7L1333.3 857.8L1334.2 849.9L1335.1 844.4L1336.2 843.5L1337.3 842.2L1338.1 839.2L1338.9 834.4L1340.4 846.7L1341.3 843.6L1342.2 844.4L1343.3 835.2L1344.4 826.7L1345.6 817.5L1346.7 808.9L1347.8 808.4L1348.9 804.4L1350 804.2L1351.1 800L1352.2 797.2L1353.3 795.6L1354.4 791.8L1355.6 784.4L1356.4 786.9L1357.3 786.7L1358.4 793.4L1359.6 802.2L1360.7 807.6L1361.8 813.3L1362.9 804.9L1364 800L1365.1 796.4L1366.2 790L1367.6 790.2L1368.9 788.9L1370 802.3L1371.1 812.2L1372.2 810.8L1373.3 806.7L1374.7 803L1376 797.8L1376.9 796.1L1377.8 792.2L1378.9 796.4L1380 800L1381.1 793.7L1382.2 791.1L1383.3 788.2L1384.4 784.4L1385.6 783.8L1386.7 787.8L1387.8 777.8L1388.9 771.1L1390.2 768.5L1391.6 763.3L1392.4 766.2L1393.3 773.3L1394.2 775.9L1395.1 782.2L1395.9 775.9L1396.7 773.3L1397.8 800L1398.9 837.8L1400 855.6L1400.9 842.9L1401.8 826.7L1403.3 804.4L1404.1 796.3L1404.9 791.1L1405.8 784.5L1406.7 782.2L1407.6 774.9L1408.4 764.4L1409.2 747.1L1410 733.3L1410.8 728.2L1411.6 720L1412.4 725.2L1413.3 728.9L1414.4 717.1L1415.6 702.2L1416.4 699.8L1417.3 693.3L1418.4 694.8L1419.6 695.6L1421.1 692.2L1421.9 700.8L1422.7 706.7L1423.6 705.7L1424.4 708.9L1425.3 719L1426.2 726.7L1427 719L1427.8 711.1L1429.3 724.4L1430.2 717.6L1431.1 708.9L1432.2 703.7L1433.3 702.2L1434.4 701.1L1435.6 697.8L1436.7 693.1L1437.8 684.4L1438.7 671.3L1439.6 662.2L1440.7 659.2L1441.8 657.8L1443.3 654.4L1444.4 680L1445.3 686.9L1446.2 693.3L1447.3 698.2L1448.4 700L1449.6 701L1450.7 704.4L1451.8 702.9L1452.9 704.4L1454.4 735.6L1455.6 728.8L1456.7 724.4L1457.8 724.9L1458.9 724.4L1460 728.9L1461.1 731.1L1461.9 737.3L1462.7 744.4L1463.6 752.7L1464.4 762.2L1465.6 765.1L1466.7 768.9L1467.8 762.7L1468.9 757.8L1470 760.7L1471.1 764.4L1472.2 768.6L1473.3 776.7L1474.4 769.5L1475.6 762.2L1476.9 766.1L1478.2 765.6L1479.1 774.6L1480 784.4L1481.1 786.7L1482.2 786.7L1483.3 781.8L1484.4 780L1485.6 780.3L1486.7 778.9L1487.8 786.2L1488.9 791.1L1490 794.1L1491.1 795.6L1492 800.1L1492.9 804.4L1493.8 826.7L1494.7 813.3L1495.6 800L1496.4 798.5L1497.3 795.6L1498.1 806.3L1498.9 813.3L1500 820.6L1501.1 831.1L1502.2 827L1503.3 826.7L1504.1 821.1L1504.9 813.3L1505.8 820.8L1506.7 824.4L1507.6 822.3L1508.4 820L1509.2 826.9L1510 834.4L1511.1 831.6L1512.2 826.7L1513.2 823.4L1514.1 821.9L1515.1 821.1L1516.4 821.4L1517.8 824.4L1519.1 832.6L1520.4 840L1521.6 844.7L1522.7 851.1L1523.6 848.8L1524.4 848.9L1525.6 835.3L1526.7 820L1527.8 816.5L1528.9 808.9L1530.2 809.1L1531.6 811.1L1532.7 804.3L1533.8 795.6L1534.7 790.8L1535.6 786.7L1536.7 791.6L1537.8 793.3L1538.9 797L1540 800L1540.9 805L1541.8 812.2L1542.9 804.8L1544 800L1545.1 793.9L1546.2 792.2L1547.3 797.1L1548.4 802.2L1549.6 802.8L1550.7 804.4L1551.8 796.2L1552.9 791.1L1554 787.1L1555.1 784.4L1556.2 785.8L1557.3 788.9L1558.7 785.7L1560 780L1561.1 786.2L1562.2 795.6L1563.3 800.1L1564.4 800L1565.6 802.1L1566.7 804.4L1567.8 809.3L1568.9 813.3L1570 819.9L1571.1 826.7L1572.2 820.4L1573.3 811.1L1574.5 814.7L1575.8 815.3L1576.8 812L1577.9 808.1L1578.8 809.8L1579.7 811.7L1580.6 811.8L1581.5 809.9L1582.4 815.6L1583.3 818L1584.2 813.5L1585.1 809.9L1586.2 804.6L1587.3 797.2L1588.2 796.6L1589.1 791.8L1590 793.9L1590.9 796.3L1591.8 791L1592.7 788.2L1594.2 797.2L1595.1 790.6L1596 786.4L1597 784.3L1598.1 780.1L1599 787.7L1600 793.6L1600.9 791.2L1601.8 784.6L1602.9 786.2L1604.1 784.6L1605 782.5L1605.9 782.8L1607.1 798.5L1608.3 817.1L1609.2 808.8L1610.1 802.7L1611 800.4L1611.9 800.9L1613.1 811.7L1614 803.6L1614.9 793.6L1615.8 788.9L1616.7 781L1617.9 783.7L1619.1 782.8L1620.2 784.4L1621.3 788.2L1622.2 793.5L1623.1 795.4L1624 791.8L1624.9 790L1626 793.2L1627 797.2L1628.2 801.9L1629.4 804.5L1630.3 797.1L1631.2 793.6L1632.1 787.2L1633 784.6L1634.3 780.1L1635.7 794.5L1636.6 788.8L1637.5 780.1L1639 786.4L1640.2 813.5L1641.1 827.9" fill="none" stroke="#da8d40" stroke-width="2.4" stroke-linejoin="round" stroke-linecap="round"/>
<path d="M212.2 614.4L213.3 661.1L216.2 661.1L217.1 638.9L220 638.2L221.1 630L224.4 628.9L225.6 586.7L230 586.7L230 573.3L235.6 573.3L235.6 575.6L237.8 575.6L237.8 588.9L242.2 588.9L242.2 598.9L245.6 598.9L245.6 570L250 570L250 555.6L255.6 555.6L255.6 553.3L257.8 553.3L257.8 575.6L261.1 575.6L261.1 577.8L261.6 673.3L264.4 673.3L265.6 663.3L268.9 662.7L270 562.2L273.3 562.2L273.3 577.8L278.9 577.8L278.9 580L282.2 580L282.2 570L285.6 570L285.6 558.9L288.9 558.9L288.9 567.8L294.4 567.8L294.4 564.4L300 563.3L303.3 563.3L303.3 555.6L306.7 555.6L306.7 568.9L308.9 568.9L308.9 593.3L311.8 594.4L312.2 536.7L316.7 536.7L316.7 516.7L320 516.7L320 490L323.3 490L323.3 474.4L327.8 474.4L328.9 520L332.2 520L332.2 497.8L335.6 497.8L336.7 575.6L341.1 575.6L341.1 563.3L344.4 563.3L344.4 577.8L347.8 577.8L348.9 508.9L353.3 508.9L353.3 482.2L356.7 482.2L356.7 452.2L358.9 452.2L361.1 452.2L361.1 470L364.4 470L364.4 496.7L366.7 496.7L367.8 440L371.8 440L373.3 491.1L376.7 491.1L376.7 555.6L380 555.6L380 562.2L381.1 583.3L383.3 583.3L384.4 500L388.9 500L388.9 487.8L391.1 487.8L391.1 442.2L395.6 442.2L396.7 446.7L400 446.7L401.1 406.7L403.3 406.7L403.3 377.8L406.7 377.8L408.9 377.8L408.9 413.3L412.2 413.3L414.4 413.3L414.4 388.9L415.6 370L418.9 370L420 408.9L423.3 408.9L423.3 392.2L426.7 392.2L427.8 411.1L431.1 411.1L432.2 373.3L435.6 373.3L435.6 335.6L440 335.6L441.1 321.1L443.3 321.1L444.4 335.6L446.7 335.6L446.7 333.3L451.1 333.3L452.2 380L454.4 380L455.6 358.9L458.9 358.9L460 374.4L463.3 374.4L463.3 376.7L466.7 377.8L467.8 400L471.1 401.1L472.2 414.4L475.6 414.4L475.6 415.6L476.7 467.8L480 467.8L480 462.2L483.3 462.2L484.4 468.9L486.7 470L488.9 470L488.9 514.4L493.3 514.4L493.3 516.7L494.4 566.7L498.9 566.7L500 552.2L503.3 552.2L503.3 524.4L505.6 524.4L507.8 524.4L507.8 540L511.1 540L511.1 542.2L512.2 564.4L515.6 564.4L515.6 558.9L517.8 558.9L518.7 656.7L522.4 656.7L523.1 599.6L526.4 599.6L526.9 514.7L530.4 514.7L531.1 486.7L534.4 486.7L535.6 497.8L538.9 497.8L538.9 502.2L541.1 502.2L542.2 473.3L546.2 473.3L547.1 481.1L550 481.1L551.1 500L554.4 501.1L555.6 564.4L557.8 564.4L557.8 565.6L558.9 631.1L562.2 631.1L563.3 628.9L566.2 628.9L567.8 651.1L571.1 651.1L571.1 653.3L573.3 653.3L573.3 657.8L575.6 657.8L575.6 661.1L578.9 661.1L578.9 663.3L582.2 664.4L585.6 664.4L585.6 665.6L586.7 695.6L588.9 696.7L590.7 696.7L590.7 712.9L593.3 712.9L594.4 688.9L597.3 687.8L598.2 674.4L601.1 674.4L602.2 643.3L604.9 643.3L604.9 641.1L606.7 641.1L606.7 637.8L609.3 637.8L610.2 645.6L612.9 645.6L613.8 617.8L616.7 617.8L617.8 625.6L621.1 625.6L622.2 651.1L625.6 650L628.4 650L628.4 648.4L629.3 632.2L632.2 631.1L634.4 631.1L634.4 629.3L637.3 629.3L638.2 648.4L641.1 648.4L641.8 632.2L644.9 632.2L646.2 681.1L648.9 681.1L650 673.3L652.9 673.3L653.8 682.2L656.7 683.3L657.8 710.7L661.1 710.7L662.2 698.2L665.6 698.2L668.9 697.3L670 692.9L672.9 692.9L673.8 704.4L677.3 704.4L678.2 696.7L681.1 695.6L682.2 686.2L684.9 686.2L685.8 697.3L688.4 697.3L689.3 747.8L692.9 748.4L693.8 767.1L696.7 767.1L698.2 753.3L701.1 752.9L701.8 747.8L704.4 747.1L705.6 736.7L708.4 736.7L710 736.7L710 734.4L713.3 733.8L714.4 740.4L716.7 740.4L717.8 735.6L720.4 735.6L720.4 734.4L721.8 720L724.4 718.9L725.5 715.6L726.7 715.6L727.5 713.3L728.4 707.8L729.5 711.8L730.7 713.3L732.2 703.3L733.3 704L734.5 707L735.6 708.9L736.7 704.8L737.8 701.1L738.9 701.8L740 702.4L741.1 701.1L741.9 711.5L742.7 725.6L743.5 747.8L744.4 774.4L745.3 762.6L746.2 747.8L747 755.8L747.8 764.4L748.9 759L750 751.1L751.1 749.9L752.2 753.3L753.3 747.5L754.4 742.2L755.5 746.6L756.7 748.9L757.8 742.1L758.9 737.8L760 735.9L761.1 730L762.2 734.6L763.3 735.6L764.1 730.3L764.9 729.3L765.8 733.6L766.7 742.2L767.8 736.3L768.9 730L770 728.1L771.1 722.2L772.2 720L773.3 718.9L774.5 715.9L775.6 715.6L776.9 712.4L778.2 710L779.6 736.7L780.9 729L782.2 725.6L783.3 719.9L784.4 716.7L785.5 716L786.7 715.9L787.8 715.6L788.9 716L790 718.9L791.1 714.9L792.2 713.3L793.3 713.9L794.5 716.8L795.6 718.9L796.7 717.4L797.8 717.8L798.7 723.3L799.6 733.3L800.9 750.4L802.2 764.4L803.3 760.2L804.5 756.2L805.6 751.1L806.7 743.6L807.8 738.9L808.9 745.1L810 746.7L811 755.4L811.9 759L812.9 767.8L814.2 764.2L815.6 762.2L816.7 772.1L817.8 780L818.7 789.9L819.6 797.8L821.1 823.3L821.9 819.2L822.7 811.1L823.5 807.4L824.4 804.4L825.5 813.7L826.7 820L827.5 827.4L828.4 833.3L829.5 823.5L830.7 815.6L831.8 809.3L832.9 802.2L834 799.5L835.1 793.3L836.2 792.7L837.3 788.9L838.1 795.6L838.9 802.2L840 812.6L841.1 822.2L842.2 830.1L843.3 842.2L844.5 838.8L845.6 837.8L846.7 836.9L847.8 833.3L848.9 841.8L850 851.1L851.1 851.8L852.2 855.6L853.3 865.8L854.4 875.6L855.5 894.3L856.7 911.1L857.8 931.1L859.1 886.7L860.4 904.4L861.3 895.2L862.2 884.4L863.3 875L864.4 866.7L865.5 863.1L866.7 860L867.5 855.6L868.4 851.1L869.2 859.6L870 865.6L870.8 854L871.6 842.2L872.5 838.4L873.3 835.6L874.2 845.6L875.1 855.6L875.9 839L876.7 826.7L878.2 808.9L879.1 799L880 793.3L881.1 780.9L882.2 766.7L883.3 757.8L884.4 744.4L884.9 722.2L885.8 661.1L886.7 722.2L887.8 736L888.9 748.9L890 740.2L891.1 731.1L892.2 724.4L893.3 716.7L894.4 708.9L895.5 705.6L896.7 697.8L897.8 697.9L898.9 695.6L900 704.6L901.1 713.3L902 711.7L902.9 706.7L904 714.3L905.1 724.4L905.9 732.8L906.7 741.1L907.8 740.4L908.9 735.6L910 737.6L911.1 738.9L912.2 737.1L913.3 735.6L914.3 732.3L915.2 731.4L916.2 728.9L917 740.5L917.8 747.8L919.3 773.3L920.5 765.5L921.6 762.2L922.7 759.1L923.8 753.3L924.8 754.4L925.7 754.3L926.7 752.2L928.2 762.2L929.1 772.2L930 780L931.1 793.6L932.2 804.4L933.1 816.2L934 827.8L934.8 819.7L935.6 811.1L936.7 819.7L937.8 828.9L938.9 818L940 811.1L941.1 813.9L942.2 813.3L943.3 827L944.4 840L945.5 828.6L946.7 820L947.8 817.8L948.9 815.6L950 813.3L951.1 811.1L952.2 807.1L953.3 804.4L954.5 805.9L955.6 808.9L957.1 824.4L958 816.8L958.9 808.9L960.2 807.2L961.6 804.4L962.5 804.2L963.5 802.7L964.4 802.2L965.4 799.3L966.3 799.5L967.3 800L968.5 806.3L969.6 815.6L971.1 840L972.2 832.6L973.3 824.4L974.5 820.5L975.6 813.3L976.7 815.8L977.8 815.6L978.9 821.4L980 824.4L981.1 828.1L982.2 828.9L983.3 832.8L984.4 838.9L985.2 835.5L986 828.9L987.1 835.2L988.2 840L989.1 852.5L990 868.9L990.9 873.3L991.8 882.2L993.3 875.6L994.5 873.9L995.6 876.7L996.7 885.1L997.8 891.1L999.3 862.2L1000.5 858.8L1001.6 857.8L1002.7 862.7L1003.8 871.1L1004.7 864.5L1005.6 856.7L1006.7 854.3L1007.8 853.3L1009.1 845.8L1010.4 842.2L1011.4 836.9L1012.3 834.9L1013.3 831.1L1014.5 824L1015.6 820L1016.7 816.8L1017.8 815.6L1019.3 813.3L1020.5 823.2L1021.6 831.1L1022.7 833.7L1023.8 836.7L1024.9 842L1026 848.9L1026.9 854.3L1027.8 860L1028.7 863.4L1029.6 871.1L1030.7 862.8L1031.8 855.6L1032.9 851.9L1034 848.9L1035.1 841.9L1036.2 837.8L1037.3 829.3L1038.4 824.4L1039.6 828.5L1040.7 828.9L1041.8 822.3L1042.9 815.6L1044 817.6L1045.1 822.2L1046.2 819.4L1047.3 815.6L1048.7 817.6L1050 816.7L1051.1 811.7L1052.2 811.1L1053.3 804.4L1054.4 802.2L1055.8 796.1L1057.1 793.3L1058.1 789.1L1059 781.4L1060 777.8L1061.1 779.8L1062.2 780L1063.3 777.5L1064.4 773.3L1065.6 772.4L1066.7 771.1L1067.8 772.1L1068.9 775.6L1070 771.1L1071.1 762.2L1072.2 758L1073.3 751.1L1074.1 746.7L1074.9 742.2L1075.8 749.8L1076.7 760L1077.6 770.7L1078.4 780L1079.2 786.2L1080 793.3L1080.8 782.5L1081.6 771.1L1082.7 765.8L1083.8 762.2L1084.9 761.7L1086 760L1087.1 761.3L1088.2 766.7L1089.3 760.2L1090.4 755.6L1091.6 755.5L1092.7 751.1L1093.8 756.2L1094.9 757.8L1096 749.1L1097.1 742.2L1098.2 742.7L1099.3 740L1100.4 741.3L1101.6 744.4L1102.7 749.8L1103.8 751.1L1104.9 742.2L1106 731.1L1107.1 735.7L1108.2 741.1L1109.6 756.7L1111.1 728.9L1112.1 730L1113 731.1L1114 735.6L1115.1 738.4L1116.2 737.8L1117 738.4L1117.8 743.3L1118.9 739.8L1120 733.3L1121 734L1121.9 730.7L1122.9 728.9L1124.2 723.5L1125.6 721.1L1126.9 723.3L1128.2 722.2L1129.3 727.7L1130.4 728.9L1131.6 727.6L1132.7 724.4L1133.6 732.2L1134.4 740L1135.8 735L1137.1 731.1L1138.2 731.5L1139.3 733.3L1140.4 745.3L1141.6 760L1142.7 751.9L1143.8 742.2L1144.9 734.1L1146 726.7L1147.1 721.9L1148.2 720L1149.3 728.2L1150.4 740L1151.6 741.3L1152.7 741.1L1153.6 724.1L1154.4 708.9L1155.6 701.1L1156.7 693.3L1157.8 685.8L1158.9 680L1160 678.4L1161.1 673.3L1162.2 669.6L1163.3 662.2L1164.4 656.7L1165.6 655.6L1166.7 662L1167.8 671.1L1168.9 667L1170 664.4L1171.1 673.3L1172.2 677.8L1173.3 683.6L1174.4 686.7L1175.6 694.3L1176.7 703.3L1177.6 688.1L1178.4 675.6L1179.6 680.8L1180.7 684.4L1181.8 700.4L1182.9 713.3L1184.4 731.1L1185.6 735.3L1186.7 735.6L1187.8 751.1L1188.7 735.9L1189.6 722.2L1190.7 712.9L1191.8 700L1192.9 698.7L1194 695.6L1195.1 693.3L1196.2 691.1L1197 704.4L1197.8 713.3L1199.3 697.8L1200.2 719.9L1201.1 744.4L1202.2 764.4L1203 751L1203.8 735.6L1205.1 757.8L1206.2 744.8L1207.3 735.6L1208.4 724.1L1209.6 715.6L1210.7 720.8L1211.8 722.2L1212.9 712L1214 704.4L1215.1 714.5L1216.2 722.2L1217.3 716L1218.4 708.9L1219.6 713.8L1220.7 715.6L1221.8 727.2L1222.9 740L1224.4 715.6L1225.6 711.5L1226.7 708.9L1227.7 706.4L1228.6 707.6L1229.6 704.4L1230.9 704.3L1232.2 703.3L1233.3 709.3L1234.4 711.1L1235.6 711.8L1236.7 708.9L1237.8 709.4L1238.9 713.3L1240 716.9L1241.1 720L1242.2 716L1243.3 715.6L1244.4 705.7L1245.6 700L1246.9 696.9L1248.2 697.8L1249.5 703.9L1250.7 706.7L1251.8 704.1L1252.9 698.9L1254.2 703.2L1255.6 704.4L1256.7 700.4L1257.8 697.8L1259.1 703.9L1260.4 708.9L1261.3 703.5L1262.2 695.6L1263.3 691.7L1264.4 688.9L1265.8 692L1267.1 694.4L1268.1 693.5L1269 693.3L1270 695.6L1271 696.7L1271.9 701.8L1272.9 702.2L1274 700.8L1275.1 698.9L1276.2 704.8L1277.3 706.7L1278.1 709.3L1278.9 712.2L1279.9 707.8L1280.8 706.9L1281.8 702.2L1283.1 700.4L1284.4 695.6L1285.8 690L1287.1 688.9L1288.1 692.3L1289 692.2L1290 696.7L1291 695.7L1291.9 699.9L1292.9 698.9L1294.2 694L1295.6 693.3L1296.7 687.1L1297.8 683.3L1298.9 704.4L1300 720L1301.1 725L1302.2 725.6L1303.3 728.5L1304.4 732.2L1305.6 734.9L1306.7 741.1L1307.8 733.5L1308.9 728.9L1310 725.5L1311.1 724.4L1312 722.8L1312.9 718.9L1314.4 731.1L1315.6 731.5L1316.7 735.6L1317.8 741.9L1318.9 744.4L1320 740L1321.1 736.7L1322.1 740L1323 740.8L1324 740L1325.1 743.5L1326.2 748.9L1327.3 751.1L1328.4 755.6L1329.2 748.2L1330 741.1L1330.8 748.7L1331.6 760L1332.4 767.3L1333.3 773.3L1334.4 774.5L1335.6 780L1336.7 775.5L1337.8 775.6L1338.7 784.5L1339.6 788.9L1341.1 801.1L1341.9 796.3L1342.7 793.3L1343.8 783.7L1344.9 773.3L1345.9 767.2L1346.8 760.6L1347.8 755.6L1348.9 750.2L1350 748.9L1351 748.9L1351.9 747.3L1352.9 743.3L1354 743.8L1355.1 740L1356.2 737.1L1357.3 737.8L1358.4 744.2L1359.6 753.3L1360.7 756.1L1361.8 757.8L1362.9 754.5L1364 746.7L1365.1 742.4L1366.2 737.8L1367.6 738.1L1368.9 736.7L1369.8 748L1370.7 757.8L1371.8 755.6L1372.9 755.6L1374.2 749.1L1375.6 742.2L1376.7 738L1377.8 735.6L1378.7 737.7L1379.6 742.2L1380.7 731.4L1381.8 724.4L1382.9 717.8L1384 713.3L1384.8 717.8L1385.6 717.8L1386.5 713.1L1387.5 709.6L1388.4 704.4L1389.8 702.3L1391.1 698.9L1392.4 700.4L1393.8 697.8L1394.7 696.2L1395.6 695.6L1396.7 711.1L1397.8 748.9L1398.9 793.3L1400 822.2L1400.9 801.3L1401.8 782.2L1403.3 737.8L1404.1 717L1404.9 697.8L1406.2 693.3L1407 670.3L1407.8 648.9L1408.9 634.9L1410 617.8L1411.1 615.2L1412.2 608.9L1413 615.7L1413.8 624.4L1414.9 612L1416 601.1L1417.1 608.6L1418.2 615.6L1419.3 609.8L1420.4 603.3L1421.3 613.2L1422.2 622.2L1423.1 616.6L1424 613.3L1424.8 622.2L1425.6 635.6L1426.7 630L1427.8 626.7L1429.3 656.7L1430.7 626.7L1432.2 606.7L1433 609.2L1433.8 615.6L1434.8 613.2L1435.7 608.4L1436.7 607.8L1437.8 611.9L1438.9 620L1440 616.2L1441.1 611.1L1442.2 616.8L1443.3 624.4L1444.1 622.4L1444.9 617.8L1445.8 624.4L1446.7 631.1L1447.8 629.4L1448.9 624.4L1450 626.2L1451.1 631.1L1452.2 637.8L1453.3 644.4L1454.2 649.1L1455.1 651.1L1456.2 645.8L1457.3 644.4L1458.4 644.3L1459.6 640L1460.7 645.1L1461.8 653.3L1463.3 671.1L1464.4 669L1465.6 664.4L1466.7 668.9L1467.8 668.9L1468.9 668.1L1470 664.4L1470.8 669.2L1471.6 675.6L1472.7 680.4L1473.8 688.9L1474.9 683.4L1476 677.8L1477.1 678.6L1478.2 675.6L1479.1 681.3L1480 688.9L1481.1 704.4L1482.2 699.6L1483.3 691.1L1484.4 685L1485.6 682.2L1487.1 697.8L1488 708.6L1488.9 715.6L1490 712.3L1491.1 713.3L1492 723.6L1492.9 735.6L1493.8 771.1L1494.7 758.5L1495.6 742.2L1496.7 731.1L1497.8 741.4L1498.9 748.9L1500.4 764.4L1501.3 773L1502.2 777.8L1503.3 773.8L1504.4 766.7L1505.6 778.9L1506.7 788.9L1507.8 795.9L1508.9 801.1L1510 792.4L1511.1 786.7L1512.2 783.4L1513.3 779.2L1514.4 777.8L1515.6 786.5L1516.7 793.3L1517.8 799.6L1518.9 804.4L1520 812.2L1521.1 822.2L1521.9 814.6L1522.7 811.1L1523.7 806.6L1524.6 799.2L1525.6 791.1L1526.7 785.8L1527.8 780L1528.9 778L1530 775.6L1531.1 780.5L1532.2 782.2L1533.3 773.1L1534.4 764.4L1535.5 761.7L1536.7 759.3L1537.8 757.8L1539.1 760L1540.4 764.4L1541.4 765.2L1542.3 771L1543.3 773.3L1544.4 766.3L1545.6 760L1546.7 757.5L1547.8 754.4L1548.8 753.5L1549.7 756L1550.7 757.8L1552 755.6L1553.3 756.7L1554.4 754.4L1555.6 755.6L1556.7 757.8L1557.8 762.2L1558.9 758.7L1560 752.2L1561.1 757.8L1562.2 764.4L1563.6 761.7L1564.9 760L1565.8 761.1L1566.7 761.1L1567.8 768.2L1568.9 777.8L1570.2 779.4L1571.6 785.6L1572.7 778.5L1573.8 771.1L1574.9 767L1576.1 762.9L1577.2 759.1L1578.3 753.9L1579.4 751.8L1580.6 750.3L1581.5 749.4L1582.4 746.7L1583.3 744.2L1584.2 739.5L1585.1 736.4L1586 735.8L1587 730.4L1587.9 725L1588.8 721.3L1589.7 717.8L1590.6 714.7L1591.5 714.2L1592.4 722.8L1593.3 732.2L1594.2 728.9L1595.1 725L1596 725.1L1596.9 721.4L1597.8 721.5L1598.7 717.8L1599.6 719.5L1600.5 723.2L1601.4 726.6L1602.3 728.6L1603.2 725.6L1604.1 726.8L1605.3 722.6L1606.5 722.3L1607.4 740.9L1608.3 759.3L1609.2 749.3L1610.1 735.8L1611 730.6L1611.9 728.6L1613.1 741.3L1614 737.5L1614.9 731.3L1616.1 729.9L1617.3 725L1618.4 723.2L1619.5 723.2L1620.5 728.6L1621.6 732.2L1622.8 729.8L1624 724.1L1625.2 725.8L1626.3 728.6L1627.4 732.2L1628.5 734L1629.6 729.7L1630.7 723.2L1631.6 719.1L1632.5 714.2L1633.9 707.9L1634.8 713.6L1635.7 716L1636.6 715.6L1637.5 711.5L1639 723.2L1640.2 750.3L1641.1 767.4" fill="none" stroke="#ce5f61" stroke-width="2.4" stroke-linejoin="round" stroke-linecap="round"/>
<text x="309" y="397" font-size="23.5" fill="#ce5f61" text-anchor="middle" textLength="121" lengthAdjust="spacingAndGlyphs"  style="">Tech Bubble</text>
<text x="903.4" y="975.4" font-size="23.5" fill="#ce5f61" text-anchor="middle" textLength="63" lengthAdjust="spacingAndGlyphs"  style="">Global</text>
<text x="903.5" y="1006" font-size="23.5" fill="#ce5f61" text-anchor="middle" textLength="87.8" lengthAdjust="spacingAndGlyphs"  style="">Financial</text>
<text x="903.6" y="1037.4" font-size="23.5" fill="#ce5f61" text-anchor="middle" textLength="52" lengthAdjust="spacingAndGlyphs"  style="">Crisis</text>
<text x="1705.9" y="533.3" font-size="23.5" fill="#34495d" text-anchor="middle" textLength="43" lengthAdjust="spacingAndGlyphs"  style="">U.S.</text>
<text x="1705.6" y="567.8" font-size="23.5" fill="#34495d" text-anchor="middle" textLength="56.8" lengthAdjust="spacingAndGlyphs"  style="">19.7x</text>
<text x="1705.2" y="727.2" font-size="23.5" fill="#ce5f61" text-anchor="middle" textLength="117" lengthAdjust="spacingAndGlyphs"  style="">Developed</text>
<text x="1705.3" y="761.5" font-size="23.5" fill="#ce5f61" text-anchor="middle" textLength="55.2" lengthAdjust="spacingAndGlyphs"  style="">12.8x</text>
<text x="1706" y="855" font-size="23.5" fill="#da8d40" text-anchor="middle" textLength="106" lengthAdjust="spacingAndGlyphs"  style="">Emerging</text>
<text x="1705.3" y="889.3" font-size="23.5" fill="#da8d40" text-anchor="middle" textLength="55.2" lengthAdjust="spacingAndGlyphs"  style="">11.0x</text>
<text x="1748.5" y="1201.8" font-size="20.7" fill="#3c4650" text-anchor="end" textLength="272" lengthAdjust="spacingAndGlyphs"  style="font-style:italic">Latest data point is Apr 15, 2025</text>
<text x="1768" y="1328.6" font-size="22.2" fill="#111" text-anchor="end" textLength="222" lengthAdjust="spacingAndGlyphs"  style="">Sources: Clearnomics,</text>
<text x="1768" y="1354.2" font-size="22.2" fill="#111" text-anchor="end" textLength="187" lengthAdjust="spacingAndGlyphs"  style="">Standard &amp; Poor’s,</text>
<text x="1767.8" y="1380.4" font-size="22.2" fill="#111" text-anchor="end" textLength="113.5" lengthAdjust="spacingAndGlyphs"  style="">MSCI, LSEG</text>
<text x="1770.5" y="1402" font-size="17.5" fill="#8f8f8f" text-anchor="end" textLength="193" lengthAdjust="spacingAndGlyphs"  style="">© 2025 Clearnomics, Inc.</text>
</svg>
</body></html>
